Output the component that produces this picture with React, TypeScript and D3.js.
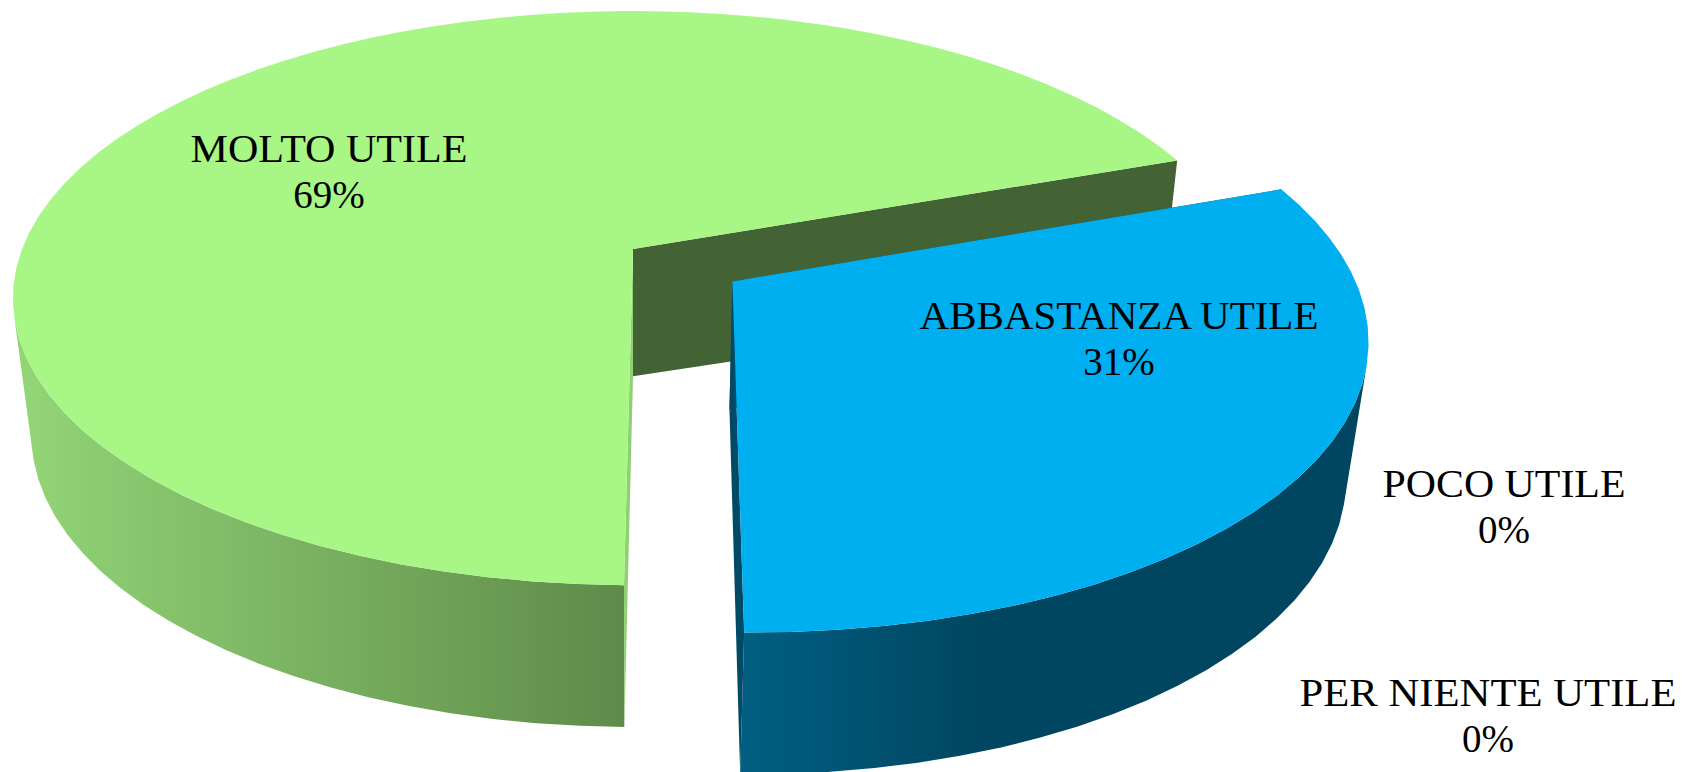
import React, { useEffect, useRef } from "react";
import * as d3 from "d3";

const categories = ["MOLTO UTILE", "ABBASTANZA UTILE", "POCO UTILE", "PER NIENTE UTILE"];
const percentages = [69.35, 30.65, 0, 0];
const explode = [0, 0.196, 0, 0];
const topColors = ["#a8f686", "#00afef", "#ffffff", "#ffffff"];
const wallColorsLeft = ["#93d677", "#005f82", "#ffffff", "#ffffff"];
const wallColorsRight = ["#5f8b4a", "#004660", "#ffffff", "#ffffff"];
const cutColors = ["#446335", "#004a66", "#ffffff", "#ffffff"];
const sliverColor = "#8fd070";

// label placement: centre x, first baseline, width of the name
const labelX = [329, 1119, 1504, 1488];
const labelY = [162, 329, 497, 706];
const labelWidth = [277, 399, 243, 377];

const W = 1682;
const H = 772;

// perspective camera, unit disc on the top plane, depth goes 0..1 downwards
const cam = { cx: 633, cy: 249, ax: 611, bz: 278.7, bzBottom: 268.6, k: 0.171, c: 142, m: 0.03, apexDrop: 131 };

type P = [number, number];

const project = (X: number, Z: number, depth: number, drop = cam.c): P => {
  const w = 1 - cam.k * Z + cam.m * depth;
  const bz = cam.bz + (cam.bzBottom - cam.bz) * depth;
  return [cam.cx + (cam.ax * X) / w, cam.cy + (bz * Z + drop * depth) / w];
};

const App = () => {
  const svgRef = useRef<SVGSVGElement>(null);

  useEffect(() => {
    const svg = d3.select(svgRef.current);
    svg.selectAll("*").remove();

    const rad = (d: number) => (d * Math.PI) / 180;
    const pie = d3
      .pie<number>()
      .sort(null)
      .startAngle(rad(180.7))
      .endAngle(rad(540.7));
    const arcs = pie(percentages);
    const line = d3.line<P>();

    const defs = svg.append("defs");
    const gradX = [
      [13, 622],
      [740, 981],
    ];
    gradX.forEach((g, i) => {
      const grad = defs
        .append("linearGradient")
        .attr("id", `wall${i}`)
        .attr("gradientUnits", "userSpaceOnUse")
        .attr("x1", g[0])
        .attr("x2", g[1])
        .attr("y1", 0)
        .attr("y2", 0);
      grad.append("stop").attr("offset", 0).attr("stop-color", wallColorsLeft[i]);
      grad.append("stop").attr("offset", 1).attr("stop-color", wallColorsRight[i]);
    });

    arcs.forEach((a, i) => {
      if (a.value <= 0) return;
      const mid = (a.startAngle + a.endAngle) / 2;
      const ox = explode[i] * Math.sin(mid);
      const oz = -explode[i] * Math.cos(mid);
      const rim = (t: number, d: number) =>
        project(ox + Math.sin(t), oz - Math.cos(t), d);
      const apex = (d: number) => project(ox, oz, d, cam.apexDrop);

      // the original outline is a polygon, not a smooth curve
      const steps = Math.ceil((a.endAngle - a.startAngle) / rad(3.6));
      const angles = d3.range(steps + 1).map(
        (j) => a.startAngle + ((a.endAngle - a.startAngle) * j) / steps
      );

      // outer wall, only the quads that face the camera
      let wallPath = "";
      d3.pairs(angles).forEach(([t0, t1]) => {
        const quad: P[] = [rim(t0, 0), rim(t1, 0), rim(t1, 1), rim(t0, 1)];
        if (d3.polygonArea(quad) > 0) wallPath += line(quad) + "Z";
      });
      svg
        .append("path")
        .attr("d", wallPath)
        .attr("fill", `url(#wall${i})`);

      // the two cut faces
      const cutEnd: P[] = [apex(0), rim(a.endAngle, 0), rim(a.endAngle, 1), apex(1)];
      const cutStart: P[] = [apex(0), rim(a.startAngle, 0), rim(a.startAngle, 1), apex(1)];
      svg
        .append("path")
        .attr("d", line(cutEnd) + "Z")
        .attr("fill", cutColors[i]);
      svg
        .append("path")
        .attr("d", line(cutStart) + "Z")
        .attr("fill", i === 0 ? sliverColor : cutColors[i]);

      // top face
      const top: P[] = [apex(0), ...angles.map((t) => rim(t, 0))];
      svg
        .append("path")
        .attr("d", line(top) + "Z")
        .attr("fill", topColors[i]);
    });

    const text = svg
      .append("g")
      .attr("font-family", "'Liberation Serif', serif")
      .attr("font-size", 39)
      .attr("fill", "#000")
      .attr("text-anchor", "middle");

    categories.forEach((name, i) => {
      text
        .append("text")
        .attr("x", labelX[i])
        .attr("y", labelY[i])
        .attr("textLength", labelWidth[i])
        .attr("lengthAdjust", "spacingAndGlyphs")
        .text(name);
      text
        .append("text")
        .attr("x", labelX[i])
        .attr("y", labelY[i] + 45.5)
        .text(`${Math.round(percentages[i])}%`);
    });
  }, []);

  return (
    <svg
      ref={svgRef}
      width={W}
      height={H}
      style={{ position: "absolute", left: 0, top: 0, display: "block", background: "#fff" }}
    />
  );
};

export default App;
